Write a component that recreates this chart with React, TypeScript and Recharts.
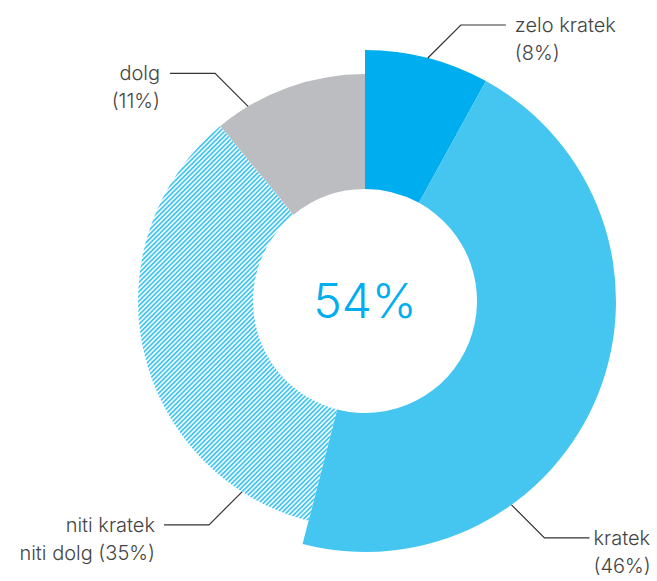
import React from 'react';
import { PieChart, Pie, Cell } from 'recharts';

// razdelitev odgovorov
const categories = ['zelo kratek', 'kratek', 'niti kratek niti dolg', 'dolg'];
const shares = [8, 46, 35, 11];
const labelLines = [
  ['zelo kratek', '(8%)'],
  ['kratek', '(46%)'],
  ['niti kratek', 'niti dolg (35%)'],
  ['dolg', '(11%)'],
];
const emphasised = [true, true, false, false];
const centerLabel = '54%';

const colors = ['#00AEEF', '#45C6F1', 'url(#hatch)', '#BCBDC0'];
// where the leader lines leave the ring (deg clockwise from 12 o'clock)
const leaderAngles = [14.5, 144.3, 212.8, 329];
const textGaps = [9, 4, 9, 10];

const data = categories.map((name, i) => ({ name, value: shares[i], big: emphasised[i] }));

const CX = 365;
const CY = 301;

const renderLabel = (big: boolean) => (props: any) => {
  const { cx, cy, outerRadius, index } = props;
  if (emphasised[index] !== big) return null;
  const a = (leaderAngles[index] * Math.PI) / 180;
  const sx = Math.sin(a) >= 0 ? 1 : -1;
  const sy = -Math.cos(a) >= 0 ? 1 : -1;
  const x0 = cx + outerRadius * Math.sin(a);
  const y0 = cy - outerRadius * Math.cos(a);
  const x1 = x0 + sx * 33;
  const y1 = y0 + sy * 33;
  const x2 = x1 + sx * 45;
  const tx = x2 + sx * textGaps[index];
  return (
    <g key={`lbl-${index}`}>
      <polyline
        points={`${x0},${y0} ${x1},${y1} ${x2},${y1}`}
        fill="none"
        stroke="#333"
        strokeWidth={1.2}
      />
      <text
        x={tx}
        y={y1 + 7}
        textAnchor={sx > 0 ? 'start' : 'end'}
        fill="#444"
        fontSize={20}
        fontWeight={300}
        fontFamily="Inter, sans-serif"
      >
        <tspan x={tx}>{labelLines[index][0]}</tspan>
        <tspan x={tx} dy={28}>{labelLines[index][1]}</tspan>
      </text>
    </g>
  );
};

export default function App() {
  return (
    <div style={{ position: 'absolute', left: 0, top: 0 }}>
      <PieChart width={657} height={581} margin={{ top: 0, right: 0, bottom: 0, left: 0 }}>
        <defs>
          <pattern
            id="hatch"
            patternUnits="userSpaceOnUse"
            width={3.3}
            height={3.3}
            patternTransform="rotate(45)"
          >
            <rect width={3.3} height={3.3} fill="#fff" />
            <rect width={1.8} height={3.3} fill="#45C6F1" />
          </pattern>
        </defs>
        <Pie
          data={data}
          dataKey="value"
          cx={CX}
          cy={CY}
          innerRadius={112}
          outerRadius={251}
          startAngle={90}
          endAngle={-270}
          stroke="none"
          isAnimationActive={false}
          labelLine={false}
          label={renderLabel(true)}
        >
          {data.map((d, i) => (
            <Cell key={i} fill={d.big ? colors[i] : 'transparent'} />
          ))}
        </Pie>
        <Pie
          data={data}
          dataKey="value"
          cx={CX}
          cy={CY}
          innerRadius={112}
          outerRadius={227}
          startAngle={90}
          endAngle={-270}
          stroke="none"
          isAnimationActive={false}
          labelLine={false}
          label={renderLabel(false)}
        >
          {data.map((d, i) => (
            <Cell key={i} fill={d.big ? 'transparent' : colors[i]} />
          ))}
        </Pie>
        <text
          x={CX}
          y={CY + 17}
          textAnchor="middle"
          fill="#00AEEF"
          fontSize={48}
          fontWeight={300}
          fontFamily="Inter, sans-serif"
        >
          {centerLabel}
        </text>
      </PieChart>
    </div>
  );
}
